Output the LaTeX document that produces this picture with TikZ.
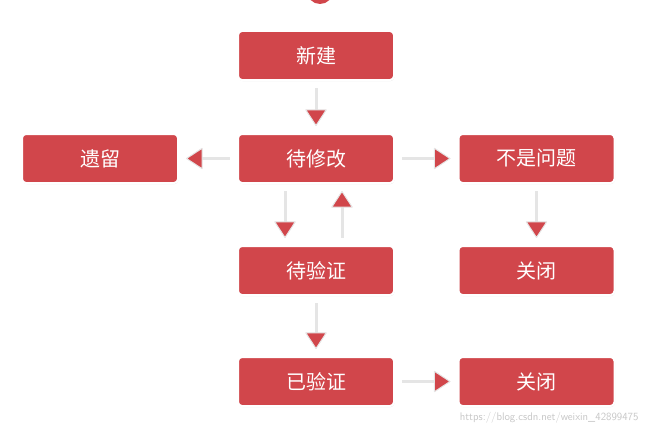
\documentclass[tikz,border=0pt]{standalone}
\usepackage{fontspec}
\newfontfamily\cjk{Noto Sans CJK SC}
\usetikzlibrary{arrows.meta,shadows}
\definecolor{boxred}{HTML}{D1464B}
\tikzset{
  box/.style={draw=white,line width=2pt,fill=boxred,rounded corners=4pt,minimum width=156pt,minimum height=49pt,text=white,font=\cjk\fontsize{20}{24}\selectfont,drop shadow={opacity=0.25,shadow xshift=0.5pt,shadow yshift=-1pt}},
  flow/.style={draw=gray!20,line width=3pt,shorten <=7pt,shorten >=7pt,-{Triangle[width=22pt,length=17pt,fill=boxred,line width=1pt,round]}},
}
\begin{document}
\begin{tikzpicture}[x=1pt,y=-1pt]
\useasboundingbox (0,0) rectangle (650,436);
\begin{scope}
\clip (0,0) rectangle (650,436);
\fill[boxred] (320,-9) circle (13);
\end{scope}
\node[box] (xj) at (316,55.5) {新建};
\node[box] (dxg) at (316,158.5) {待修改};
\node[box] (yl) at (100,158.5) {遗留};
\node[box] (bs) at (536.5,158.5) {不是问题};
\node[box] (dyz) at (316,270.5) {待验证};
\node[box] (gb1) at (536.5,270.5) {关闭};
\node[box] (yyz) at (316,381.5) {已验证};
\node[box] (gb2) at (536.5,381.5) {关闭};
\draw[flow] (xj) -- (dxg);
\draw[flow] (dxg) -- (yl);
\draw[flow] (dxg) -- (bs);
\draw[flow] (bs) -- (gb1);
\draw[flow] ([xshift=-31pt]dxg.south) -- ([xshift=-31pt]dyz.north);
\draw[flow] ([xshift=26pt]dyz.north) -- ([xshift=26pt]dxg.south);
\draw[flow] (dyz) -- (yyz);
\draw[flow] (yyz) -- (gb2);
\node[text=gray!45,font=\fontsize{11}{13}\selectfont\sffamily,anchor=east] (wm) at (642,418) {https://blog.csdn.net/weixin\_42899475};
\end{tikzpicture}
\end{document}
